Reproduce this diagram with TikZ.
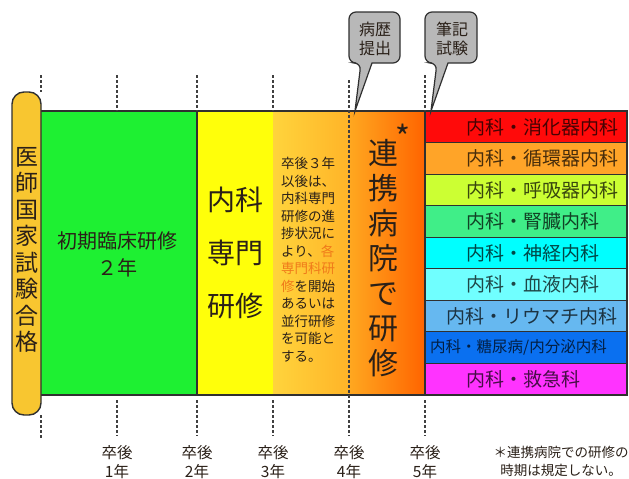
\documentclass[tikz,border=0pt]{standalone}
\usepackage{fontspec}
\setmainfont{Noto Sans CJK JP}
\definecolor{capsule}{HTML}{F8C630}
\definecolor{grn}{HTML}{1EF032}
\definecolor{ylw}{HTML}{FFFF0A}
\definecolor{gold1}{HTML}{FFD43C}
\definecolor{gold2}{HTML}{FFB428}
\definecolor{gold3}{HTML}{FFA820}
\definecolor{org}{HTML}{FF6400}
\definecolor{ink}{HTML}{2A2018}
\definecolor{hl}{HTML}{F07A1A}
\definecolor{callg}{HTML}{B8B8B8}
\definecolor{edge}{HTML}{303030}
\definecolor{r1}{HTML}{FF0A0A}
\definecolor{r2}{HTML}{FFA428}
\definecolor{r3}{HTML}{CCFF33}
\definecolor{r4}{HTML}{40EE88}
\definecolor{r5}{HTML}{00FFFF}
\definecolor{r6}{HTML}{70FFFF}
\definecolor{r7}{HTML}{66B8F0}
\definecolor{r8}{HTML}{0A70F0}
\definecolor{r9}{HTML}{FF33FF}
\begin{document}
\begin{tikzpicture}[x=1pt,y=-1pt,
  rowbox/.style={draw=edge,line width=1.2pt,minimum width=202pt,minimum height=31.56pt,inner sep=0pt},
  rowtext/.style={anchor=west,inner sep=0pt,text=black,text opacity=0.72,font=\fontsize{19}{19}\selectfont},
  tick/.style={draw=black!75,line width=1.4pt,dash pattern=on 3pt off 2pt},
  year/.style={align=center,text=ink,font=\fontsize{15.5}{18.5}\selectfont},
  callout/.style={fill=callg,draw=edge,line width=1.2pt},
  calltext/.style={align=center,text=ink,font=\fontsize{16}{19}\selectfont}]
\useasboundingbox (0,0) rectangle (629,479);
% band
\fill[grn] (41,111) rectangle (197,395);
\fill[ylw] (197,111) rectangle (273,395);
\shade[left color=gold1,right color=gold2] (273,111) rectangle (349,395);
\shade[left color=gold3,right color=org] (349,111) rectangle (425,395);
\draw[edge,line width=1.3pt] (41,111) -- (425,111) (41,395) -- (425,395) (197,111) -- (197,395);
% rows
\node[rowbox,fill=r1] (row1) at (526,126.78) {};
\node[rowbox,fill=r2] (row2) at (526,158.33) {};
\node[rowbox,fill=r3] (row3) at (526,189.89) {};
\node[rowbox,fill=r4] (row4) at (526,221.44) {};
\node[rowbox,fill=r5] (row5) at (526,253.00) {};
\node[rowbox,fill=r6] (row6) at (526,284.56) {};
\node[rowbox,fill=r7] (row7) at (526,316.11) {};
\node[rowbox,fill=r8] (row8) at (526,347.67) {};
\node[rowbox,fill=r9] (row9) at (526,379.22) {};
\node[rowtext] (t1) at (466,127) {内科・消化器内科};
\node[rowtext] (t2) at (466,158.5) {内科・循環器内科};
\node[rowtext] (t3) at (466,190) {内科・呼吸器内科};
\node[rowtext] (t4) at (466,221.6) {内科・腎臓内科};
\node[rowtext] (t5) at (466,253.2) {内科・神経内科};
\node[rowtext] (t6) at (466,284.7) {内科・血液内科};
\node[rowtext] (t7) at (446,316.3) {内科・リウマチ内科};
\node[rowtext,font=\fontsize{15.5}{15.5}\selectfont] (t8) at (430,347.8) {内科・糖尿病/内分泌内科};
\node[rowtext] (t9) at (466,379.4) {内科・救急科};
% capsule
\draw[fill=capsule,draw=edge,line width=1.4pt,rounded corners=12pt] (12,92) rectangle (41,415);
\node[align=center,text=ink,font=\fontsize{23}{26.5}\selectfont] (license) at (27,250) {医\\師\\国\\家\\試\\験\\合\\格};
% ticks
\draw[tick] (41,75) -- (41,92) (41,415) -- (41,438);
\draw[tick] (117,75) -- (117,111) (117,400) -- (117,436);
\draw[tick] (197,75) -- (197,111) (197,400) -- (197,436);
\draw[tick] (273,75) -- (273,111) (273,400) -- (273,436);
\draw[tick] (349,80) -- (349,436);
\draw[tick] (425,75) -- (425,111) (425,400) -- (425,436);
% texts in band
\node[align=center,text=ink,font=\fontsize{20}{27}\selectfont] (initial) at (117,254) {初期臨床研修\\２年};
\node[align=center,text=ink,font=\fontsize{28}{53}\selectfont] (naika) at (235,253) {内科\\専門\\研修};
\node[anchor=north west,align=left,inner sep=0pt,text=ink,font=\fontsize{13.5}{17.5}\selectfont] (note) at (281,157)
 {卒後３年\\以後は、\\内科専門\\研修の進\\捗状況に\\より、\textcolor{hl}{各}\\\textcolor{hl}{専門科研}\\\textcolor{hl}{修}を開始\\あるいは\\並行研修\\を可能と\\する。};
\node[align=center,text=ink,font=\fontsize{30}{35}\selectfont] (renkei) at (383,258) {連\\携\\病\\院\\で\\研\\修};
\node[text=ink,font=\fontsize{32}{32}\selectfont,inner sep=0pt] (ast) at (403,137) {*};
% callouts
\coordinate (tipA) at (355,111);
\coordinate (tipB) at (431,111);
\path[callout] (361,63) [sharp corners] -- (tipA) -- (372,63) [rounded corners=7pt] -- (400,63) -- (400,12) -- (349,12) -- (349,63) -- cycle;
\path[callout] (437,63) [sharp corners] -- (tipB) -- (448,63) [rounded corners=7pt] -- (477,63) -- (477,12) -- (425,12) -- (425,63) -- cycle;
\node[calltext] (byoreki) at (375,39) {病歴\\提出};
\node[calltext] (hikki) at (452,39) {筆記\\試験};
% years
\node[year] (y1) at (117,462) {卒後\\1年};
\node[year] (y2) at (197,462) {卒後\\2年};
\node[year] (y3) at (273,462) {卒後\\3年};
\node[year] (y4) at (349,462) {卒後\\4年};
\node[year] (y5) at (425,462) {卒後\\5年};
\node[align=center,text=ink,font=\fontsize{13.5}{18}\selectfont] (foot) at (561,461) {＊連携病院での研修の\\時期は規定しない。};
\end{tikzpicture}
\end{document}
